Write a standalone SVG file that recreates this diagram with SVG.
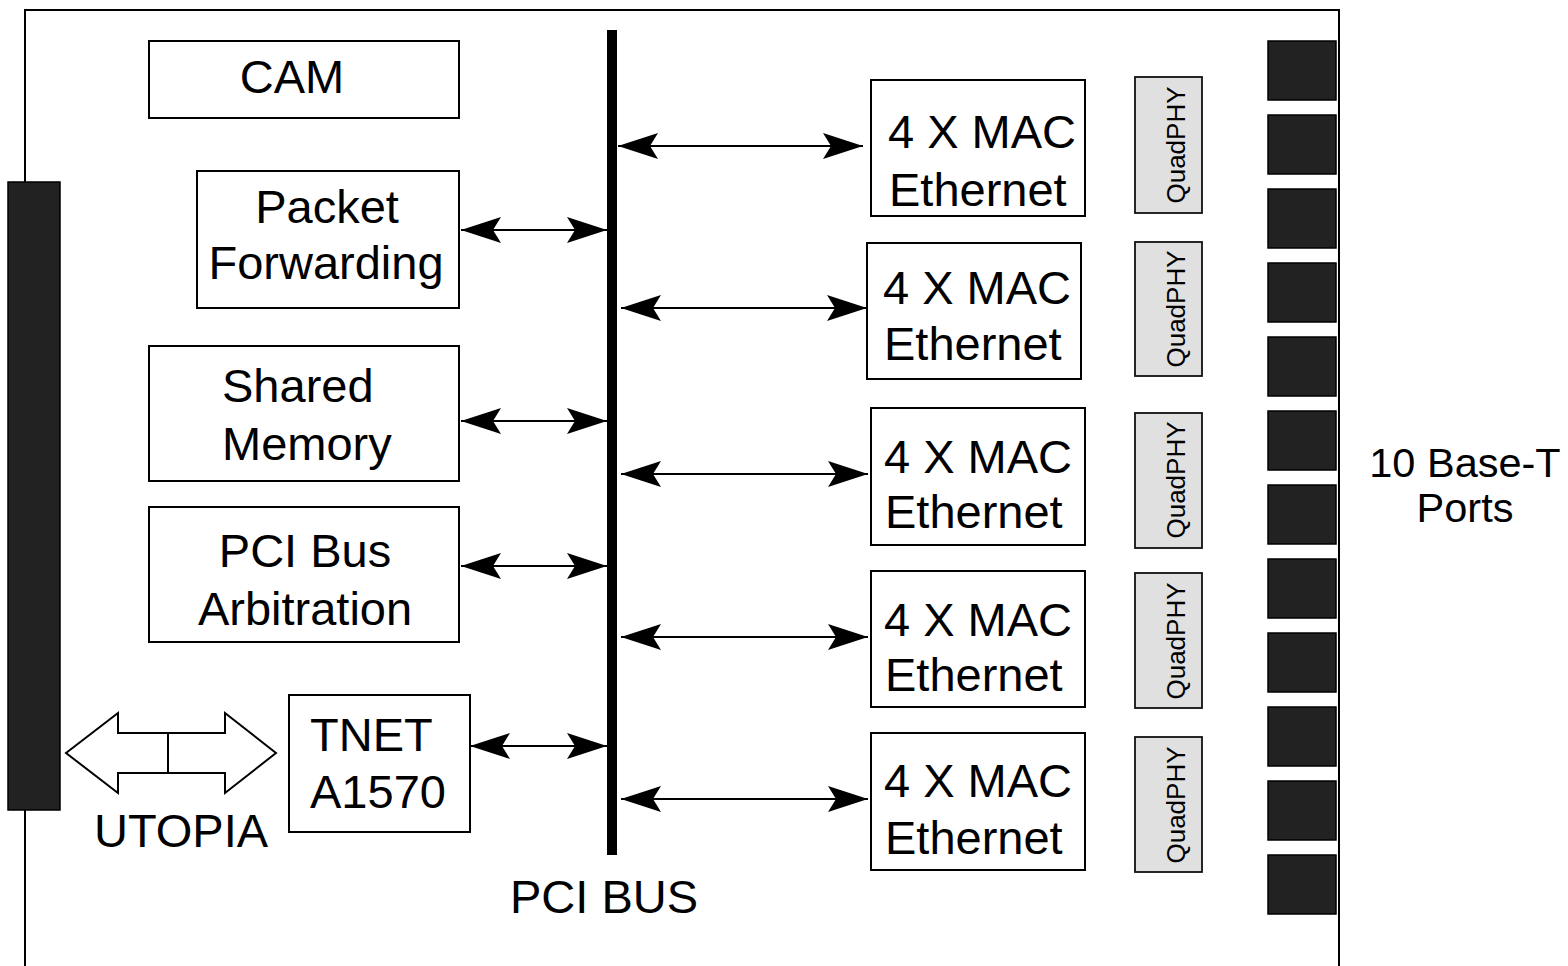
<svg xmlns="http://www.w3.org/2000/svg" width="1568" height="966" viewBox="0 0 1568 966">
  <style>
    .box { fill: #fff; stroke: #000; stroke-width: 2; }
    .phy { fill: #e0e0e0; stroke: #111; stroke-width: 1.8; }
    .port { fill: #222; stroke: #000; stroke-width: 1.5; }
    .lbl { font-family: "Liberation Sans", Arial, sans-serif; font-size: 47px; fill: #000; }
    .mid { text-anchor: middle; }
    .phyt { font-family: "Liberation Sans", Arial, sans-serif; font-size: 26px; fill: #000; text-anchor: middle; }
    .side { font-family: "Liberation Sans", Arial, sans-serif; font-size: 41.5px; fill: #000; text-anchor: middle; }
    .link { stroke: #000; stroke-width: 2; fill: none; marker-start: url(#head); marker-end: url(#head); }
  </style>
  <defs>
    <marker id="head" viewBox="-41 -14 42 28" refX="0" refY="0" markerWidth="42" markerHeight="28" markerUnits="userSpaceOnUse" orient="auto-start-reverse">
      <path d="M0,0 L-40,-13 L-32,0 L-40,13 Z" fill="#000"/>
    </marker>
  </defs>

  <rect width="1568" height="966" fill="#fff"/>

  <!-- board outline -->
  <path d="M25,968 L25,10 L1339,10 L1339,968" fill="none" stroke="#000" stroke-width="2"/>

  <!-- edge connector -->
  <rect id="edge-connector" x="8" y="182" width="52" height="628" class="port" stroke-width="2"/>

  <!-- PCI bus -->
  <g id="pci-bus">
    <rect x="607" y="30" width="10" height="825" fill="#000"/>
    <text class="lbl mid" x="604" y="913">PCI BUS</text>
  </g>

  <g id="cam">
    <rect class="box" x="149" y="41" width="310" height="77"/>
    <text class="lbl mid" x="292" y="93">CAM</text>
  </g>

  <g id="packet-forwarding">
    <rect class="box" x="197" y="171" width="262" height="137"/>
    <text class="lbl mid" x="327" y="223">Packet</text>
    <text class="lbl mid" x="326" y="279">Forwarding</text>
  </g>

  <g id="shared-memory">
    <rect class="box" x="149" y="346" width="310" height="135"/>
    <text class="lbl" x="222" y="402">Shared</text>
    <text class="lbl" x="222" y="460">Memory</text>
  </g>

  <g id="pci-arbitration">
    <rect class="box" x="149" y="507" width="310" height="135"/>
    <text class="lbl mid" x="305" y="567">PCI Bus</text>
    <text class="lbl mid" x="305" y="625">Arbitration</text>
  </g>

  <g id="tnet">
    <rect class="box" x="289" y="695" width="181" height="137"/>
    <text class="lbl" x="310" y="751">TNET</text>
    <text class="lbl" x="310" y="808">A1570</text>
  </g>

  <g id="utopia">
    <path d="M66,753 L118,713 L118,733 L225,733 L225,713 L276,753 L225,793 L225,773 L118,773 L118,793 Z" fill="#fff" stroke="#000" stroke-width="2" stroke-linejoin="miter"/>
    <line x1="168" y1="733" x2="168" y2="773" stroke="#000" stroke-width="2"/>
    <text class="lbl mid" x="181" y="847">UTOPIA</text>
  </g>

  <!-- MAC blocks -->
  <g id="mac1">
    <rect class="box" x="871" y="80" width="214" height="136"/>
    <text class="lbl" x="888" y="148">4 X MAC</text>
    <text class="lbl" x="889" y="206">Ethernet</text>
  </g>
  <g id="mac2">
    <rect class="box" x="867" y="243" width="214" height="136"/>
    <text class="lbl" x="883" y="304">4 X MAC</text>
    <text class="lbl" x="884" y="360">Ethernet</text>
  </g>
  <g id="mac3">
    <rect class="box" x="871" y="408" width="214" height="137"/>
    <text class="lbl" x="884" y="473">4 X MAC</text>
    <text class="lbl" x="885" y="528">Ethernet</text>
  </g>
  <g id="mac4">
    <rect class="box" x="871" y="571" width="214" height="136"/>
    <text class="lbl" x="884" y="636">4 X MAC</text>
    <text class="lbl" x="885" y="691">Ethernet</text>
  </g>
  <g id="mac5">
    <rect class="box" x="871" y="733" width="214" height="137"/>
    <text class="lbl" x="884" y="797">4 X MAC</text>
    <text class="lbl" x="885" y="854">Ethernet</text>
  </g>

  <!-- PHY chips -->
  <g id="phy1">
    <rect class="phy" x="1135" y="77" width="67" height="136"/>
    <text class="phyt" transform="translate(1185,145) rotate(-90)">QuadPHY</text>
  </g>
  <g id="phy2">
    <rect class="phy" x="1135" y="242" width="67" height="134"/>
    <text class="phyt" transform="translate(1185,309) rotate(-90)">QuadPHY</text>
  </g>
  <g id="phy3">
    <rect class="phy" x="1135" y="413" width="67" height="135"/>
    <text class="phyt" transform="translate(1185,480) rotate(-90)">QuadPHY</text>
  </g>
  <g id="phy4">
    <rect class="phy" x="1135" y="573" width="67" height="135"/>
    <text class="phyt" transform="translate(1185,641) rotate(-90)">QuadPHY</text>
  </g>
  <g id="phy5">
    <rect class="phy" x="1135" y="737" width="67" height="135"/>
    <text class="phyt" transform="translate(1185,805) rotate(-90)">QuadPHY</text>
  </g>

  <!-- RJ45 jacks -->
  <g id="ports">
    <rect class="port" x="1268" y="41" width="68" height="59"/>
    <rect class="port" x="1268" y="115" width="68" height="59"/>
    <rect class="port" x="1268" y="189" width="68" height="59"/>
    <rect class="port" x="1268" y="263" width="68" height="59"/>
    <rect class="port" x="1268" y="337" width="68" height="59"/>
    <rect class="port" x="1268" y="411" width="68" height="59"/>
    <rect class="port" x="1268" y="485" width="68" height="59"/>
    <rect class="port" x="1268" y="559" width="68" height="59"/>
    <rect class="port" x="1268" y="633" width="68" height="59"/>
    <rect class="port" x="1268" y="707" width="68" height="59"/>
    <rect class="port" x="1268" y="781" width="68" height="59"/>
    <rect class="port" x="1268" y="855" width="68" height="59"/>
  </g>
  <g id="ports-label">
    <text class="side" x="1465" y="477">10 Base-T</text>
    <text class="side" x="1465" y="522">Ports</text>
  </g>

  <!-- bus connections -->
  <g id="connectors">
    <line class="link" x1="461" y1="230" x2="607" y2="230"/>
    <line class="link" x1="461" y1="421" x2="607" y2="421"/>
    <line class="link" x1="461" y1="566" x2="607" y2="566"/>
    <line class="link" x1="470" y1="746" x2="607" y2="746"/>
    <line class="link" x1="618" y1="146" x2="863" y2="146"/>
    <line class="link" x1="621" y1="308" x2="867" y2="308"/>
    <line class="link" x1="621" y1="474" x2="868" y2="474"/>
    <line class="link" x1="621" y1="637" x2="868" y2="637"/>
    <line class="link" x1="621" y1="799" x2="868" y2="799"/>
  </g>
</svg>
